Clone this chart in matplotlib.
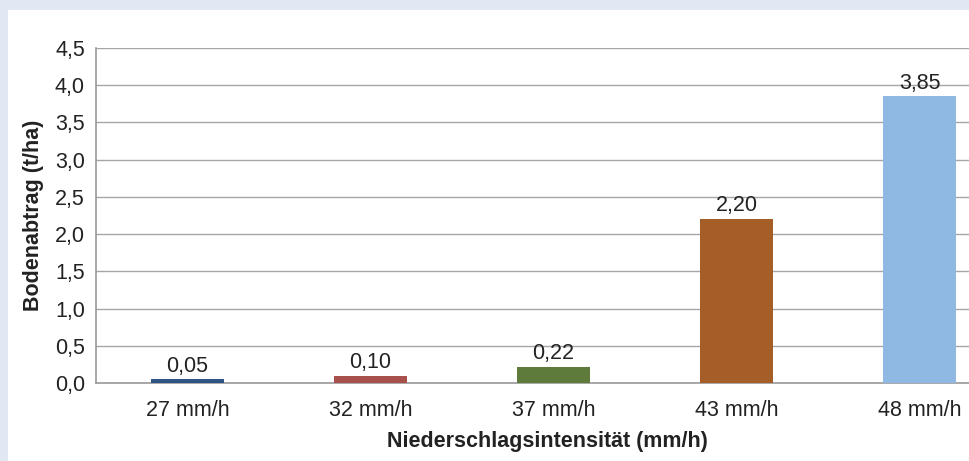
import numpy as np
import matplotlib.pyplot as plt

# Niederschlagsintensität und Bodenabtrag
categories = ["27 mm/h", "32 mm/h", "37 mm/h", "43 mm/h", "48 mm/h"]
values = [0.05, 0.10, 0.22, 2.20, 3.85]
colors = ["#2f5585", "#a8504b", "#5f7b3b", "#a55e28", "#8fb8e2"]
yticks = [0.0, 0.5, 1.0, 1.5, 2.0, 2.5, 3.0, 3.5, 4.0, 4.5]

plt.rcParams['font.family'] = ['Liberation Sans', 'DejaVu Sans']

fig = plt.figure(figsize=(9.69, 4.61), dpi=100)
fig.patch.set_facecolor("#e1e8f4")

# white panel
panel = fig.add_axes([8/969, 0, 1 - 8/969, 1 - 10/461])
panel.set_facecolor("white")
panel.set_xticks([])
panel.set_yticks([])
for s in panel.spines.values():
    s.set_visible(False)

left, right = 96/969, 1.0
bottom, top = 1 - 383/461, 1 - 48/461
ax = fig.add_axes([left, bottom, right - left, top - bottom])
ax.set_facecolor("none")

x = np.arange(len(categories))
ax.bar(x, values, width=0.40, color=colors, zorder=3)

for xi, v in zip(x, values):
    ax.annotate(f"{v:.2f}".replace(".", ","), (xi, v), xytext=(0, 2),
                textcoords="offset points", ha="center", va="bottom",
                fontsize=15.5, color="#222222", zorder=4)

ax.set_ylim(0, 4.5)
ax.set_xlim(-0.5, (969 - 96) / 183 - 0.5)
ax.set_yticks(yticks)
ax.set_yticklabels([f"{t:.1f}".replace(".", ",") for t in yticks])
ax.set_xticks(x)
ax.set_xticklabels(categories)
ax.tick_params(axis="both", length=0, labelsize=15.5, colors="#222222")
ax.tick_params(axis="x", pad=12)
ax.tick_params(axis="y", pad=8)

ax.yaxis.grid(True, color="#a6a6a6", linewidth=1, zorder=0)
ax.set_axisbelow(True)
for side in ["top", "right"]:
    ax.spines[side].set_visible(False)
for side in ["left", "bottom"]:
    ax.spines[side].set_color("#9a9a9a")
    ax.spines[side].set_linewidth(1.2)

ax.set_ylabel("Bodenabtrag (t/ha)", fontsize=15.5, fontweight="bold",
              color="#222222", labelpad=8)
fig.text(547/969, 1 - 441/461, "Niederschlagsintensität (mm/h)",
         ha="center", va="center", fontsize=15.5, fontweight="bold",
         color="#222222")

fig.savefig("out.png", dpi=100, facecolor=fig.get_facecolor())
